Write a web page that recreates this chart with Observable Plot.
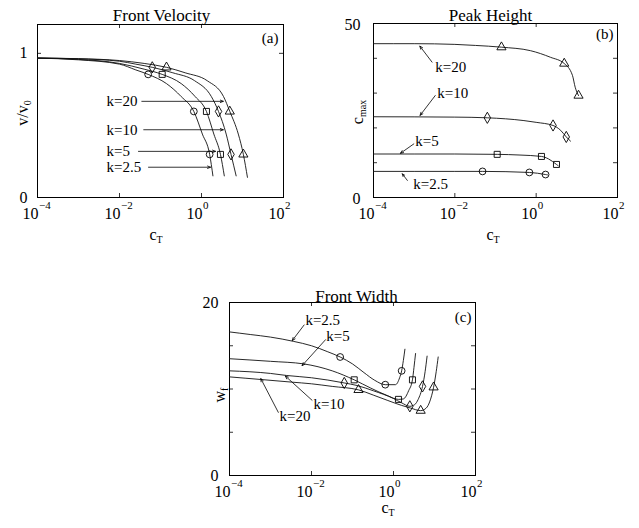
<!DOCTYPE html>
<html><head><meta charset="utf-8">
<script src="https://cdn.jsdelivr.net/npm/d3@7"></script>
<script src="https://cdn.jsdelivr.net/npm/@observablehq/plot@0.6"></script>
<style>
body{margin:0;background:#fff;}
#wrap{position:relative;width:639px;height:528px;background:#fff;overflow:hidden;}
#wrap svg{position:absolute;overflow:visible;}
</style></head><body><div id="wrap"></div>
<script>
// ---------- shared axis data ----------
const xTickValues = [1e-4, 1e-2, 1, 1e2];
const xTickExponents = ["\u22124", "\u22122", "0", "2"];
const xInnerTicks = [1e-2, 1];
const kLabels = ["2.5", "5", "10", "20"];
const kSymbols = ["circle", "square", "diamond", "triangle"];

// ---------- (a) Front Velocity : v/v0 vs cT ----------
const velCT25 = [0.0001, 0.001, 0.01, 0.025, 0.05, 0.14, 0.32, 0.65, 1.05, 1.58, 1.9];
const velV25  = [0.967, 0.955, 0.925, 0.885, 0.854, 0.79, 0.70, 0.597, 0.44, 0.299, 0.15];
const velCT5  = [0.0001, 0.001, 0.01, 0.04, 0.11, 0.32, 0.7, 1.32, 2.0, 2.9, 3.6];
const velV5   = [0.967, 0.958, 0.93, 0.89, 0.854, 0.79, 0.70, 0.597, 0.44, 0.299, 0.15];
const velCT10 = [0.0001, 0.001, 0.01, 0.025, 0.063, 0.2, 0.68, 1.74, 2.6, 4.0, 5.25, 7.0];
const velV10  = [0.967, 0.962, 0.945, 0.925, 0.903, 0.865, 0.81, 0.70, 0.597, 0.44, 0.299, 0.15];
const velCT20 = [0.0001, 0.001, 0.01, 0.04, 0.14, 0.4, 1.38, 3.45, 4.9, 7.9, 10.5, 13.2];
const velV20  = [0.967, 0.963, 0.95, 0.93, 0.903, 0.865, 0.81, 0.70, 0.597, 0.44, 0.299, 0.14];
const velMarkCT25 = [0.05, 0.65, 1.58],  velMarkV25 = [0.854, 0.597, 0.299];
const velMarkCT5  = [0.11, 1.32, 2.9],   velMarkV5  = [0.854, 0.597, 0.299];
const velMarkCT10 = [0.063, 2.6, 5.25],  velMarkV10 = [0.903, 0.597, 0.299];
const velMarkCT20 = [0.14, 4.9, 10.5],   velMarkV20 = [0.903, 0.597, 0.299];
const velYTicks = [1];
const velYLabels = [0, 1];
const velAnnotLabels = ["k=20", "k=10", "k=5", "k=2.5"];
const velAnnotCT = [0.0048, 0.0048, 0.0048, 0.0048];
const velAnnotV = [0.667, 0.47, 0.32, 0.21];
const velArrowFromCT = [0.035, 0.039, 0.029, 0.051];
const velArrowToCT = [3.4, 3.4, 2.2, 1.66];

// ---------- (b) Peak Height : c_max vs cT ----------
const peakCT25 = [0.0001, 0.01, 0.048, 0.68, 1.7, 1.9];
const peakC25  = [7.5, 7.5, 7.5, 7.2, 6.6, 6.5];
const peakCT5  = [0.0001, 0.01, 0.11, 0.4, 1.35, 2.0, 3.16, 3.5];
const peakC5   = [12.5, 12.5, 12.4, 12.2, 11.8, 11.1, 9.5, 9.1];
const peakCT10 = [0.0001, 0.01, 0.063, 0.5, 1, 2.6, 4.0, 5.5, 7.0];
const peakC10  = [23.2, 23.1, 22.9, 22.1, 21.6, 20.7, 19.3, 17.4, 16.2];
const peakCT20 = [0.0001, 0.001, 0.01, 0.032, 0.14, 0.72, 2.24, 4.9, 7.8, 9.1, 11];
const peakC20  = [44.2, 44.2, 44.0, 43.7, 43.2, 42.2, 40.3, 38.5, 35.1, 31.7, 29.3];
const peakMarkCT25 = [0.048, 0.68, 1.7],  peakMarkC25 = [7.5, 7.2, 6.6];
const peakMarkCT5  = [0.11, 1.35, 3.16],  peakMarkC5  = [12.4, 11.8, 9.5];
const peakMarkCT10 = [0.063, 2.6, 5.5],   peakMarkC10 = [22.9, 20.7, 17.4];
const peakMarkCT20 = [0.14, 4.9, 11],     peakMarkC20 = [43.2, 38.5, 29.3];
const peakYTicks = [10, 20, 30, 40];
const peakYLabels = [0, 50];
const peakAnnotLabels = ["k=20", "k=10", "k=5", "k=2.5"];
const peakAnnotCT = [0.0033, 0.0037, 0.00107, 0.00095];
const peakAnnotC = [37.4, 30.0, 16.2, 3.9];
const peakArrowFromCT = [0.00275, 0.0033, 0.00098, 0.00068];
const peakArrowFromC = [38.9, 29.3, 15.4, 4.9];
const peakArrowToCT = [0.00138, 0.0014, 0.00046, 0.00051];
const peakArrowToC = [43.5, 23.6, 12.7, 6.8];

// ---------- (c) Front Width : w_f vs cT ----------
const widthCT25 = [0.0001, 0.00032, 0.001, 0.0037, 0.01, 0.025, 0.05, 0.1, 0.19, 0.35, 0.63, 1.12, 1.41, 1.58, 1.74, 1.9];
const widthW25  = [16.6, 16.3, 16.0, 15.5, 15.0, 14.3, 13.7, 12.9, 11.9, 11.0, 10.5, 10.5, 11.3, 12.1, 13.3, 14.6];
const widthCT5  = [0.0001, 0.001, 0.0065, 0.032, 0.11, 0.28, 0.7, 1.32, 1.74, 2.34, 2.9, 3.16, 3.45];
const widthW5   = [13.5, 13.2, 12.9, 12.1, 11.06, 10.1, 9.25, 8.8, 8.85, 9.8, 11.06, 12.5, 14.1];
const widthCT10 = [0.0001, 0.001, 0.0025, 0.01, 0.063, 0.13, 0.32, 1, 1.58, 2.5, 3.3, 4.0, 5.1, 5.9, 6.6];
const widthW10  = [12.1, 11.8, 11.56, 11.3, 10.7, 10.4, 9.8, 8.9, 8.4, 8.0, 8.2, 8.8, 10.3, 12.0, 13.8];
const widthCT20 = [0.0001, 0.00058, 0.0032, 0.01, 0.032, 0.14, 0.32, 0.7, 1.58, 2.6, 4.6, 6.3, 7.6, 9.5, 11, 12.3];
const widthW20  = [11.4, 11.1, 10.8, 10.6, 10.3, 9.9, 9.3, 8.7, 8.1, 7.8, 7.5, 7.8, 8.5, 10.2, 12.0, 13.7];
const widthMarkCT25 = [0.05, 0.63, 1.58],  widthMarkW25 = [13.7, 10.5, 12.1];
const widthMarkCT5  = [0.11, 1.32, 2.9],   widthMarkW5  = [11.06, 8.8, 11.06];
const widthMarkCT10 = [0.063, 2.5, 5.1],   widthMarkW10 = [10.7, 8.0, 10.3];
const widthMarkCT20 = [0.14, 4.6, 9.5],    widthMarkW20 = [9.9, 7.5, 10.2];
const widthYTicks = [5, 10, 15];
const widthYLabels = [0, 20];
const widthAnnotLabels = ["k=2.5", "k=5", "k=10", "k=20"];
const widthAnnotCT = [0.0071, 0.023, 0.0112, 0.00166];
const widthAnnotW = [18.0, 16.1, 8.3, 6.9];
const widthArrowFromCT = [0.0066, 0.022, 0.0103, 0.00155];
const widthArrowFromW = [17.4, 15.7, 8.7, 7.3];
const widthArrowToCT = [0.0034, 0.0059, 0.0023, 0.00058];
const widthArrowToW = [15.6, 12.7, 11.5, 11.2];

// ---------- helpers ----------
const FONT = '"Liberation Serif", "DejaVu Serif", "Times New Roman", serif';
const rows = (cT, vals) => cT.map((c, i) => ({cT: c, val: vals[i]}));

function panel(o) {
  const innerW = o.width - o.ml - o.mr, innerH = o.height - o.mt - o.mb;
  const marks = [
    Plot.ruleX(xInnerTicks, {x: d => d, insetTop: innerH - 4, stroke: "black", strokeWidth: 0.8}),
    Plot.ruleX(xInnerTicks, {x: d => d, insetBottom: innerH - 4, stroke: "black", strokeWidth: 0.8}),
    Plot.ruleY(o.yTicks, {y: d => d, insetRight: innerW - 4, stroke: "black", strokeWidth: 0.8}),
    Plot.ruleY(o.yTicks, {y: d => d, insetLeft: innerW - 4, stroke: "black", strokeWidth: 0.8}),
    Plot.frame({stroke: "black", strokeWidth: 1}),
    Plot.text(xTickValues, {x: d => d, frameAnchor: "bottom", dy: 21, dx: 1, text: () => "10", textAnchor: "end", lineAnchor: "bottom", fontSize: 16, fill: "black"}),
    Plot.text(xTickValues, {x: d => d, frameAnchor: "bottom", dy: 11, dx: 1.5, text: (d, i) => xTickExponents[i], textAnchor: "start", lineAnchor: "bottom", fontSize: 11, fill: "black"}),
    Plot.text(o.yLabels, {y: d => d, frameAnchor: "left", dx: o.yLabelDx, dy: o.yLabelDy, text: d => String(d), textAnchor: "end", fontSize: 16, fill: "black"}),
    Plot.text([o.title], {frameAnchor: "top", dx: o.titleDx, dy: o.titleDy, text: d => d, lineAnchor: "bottom", fontSize: 17, fill: "black"}),
    Plot.text([o.tag], {frameAnchor: "top-right", dx: o.tagDx, dy: o.tagDy, text: d => d, textAnchor: "end", lineAnchor: "middle", fontSize: 15, fill: "black"})
  ];
  o.curves.forEach(c => marks.push(Plot.line(c, {x: "cT", y: "val", curve: "monotone-x", stroke: "#111", strokeWidth: 0.9})));
  o.markers.forEach((m, i) => marks.push(Plot.dot(m, {x: "cT", y: "val", symbol: kSymbols[i], r: 3.4, stroke: "black", strokeWidth: 0.9, fill: "none"})));
  marks.push(Plot.arrow(o.arrows, {x1: "x1", y1: "y1", x2: "x2", y2: "y2", stroke: "black", strokeWidth: 0.8, headLength: 6, headAngle: 45}));
  marks.push(Plot.text(o.annots, {x: "x", y: "y", text: "label", textAnchor: "start", fontSize: 15, fill: "black"}));
  return Plot.plot({
    width: o.width, height: o.height,
    marginLeft: o.ml, marginRight: o.mr, marginTop: o.mt, marginBottom: o.mb,
    x: {type: "log", domain: [1e-4, 1e2], axis: null},
    y: {domain: [0, o.ymax], axis: null},
    style: {fontFamily: FONT, background: "transparent", color: "black", overflow: "visible"},
    marks
  });
}

function axisLabel(svg, x, y, main, sub, rotate) {
  const t = d3.select(svg).append("text")
    .attr("transform", `translate(${x},${y})` + (rotate ? " rotate(-90)" : ""))
    .attr("text-anchor", "middle").attr("font-family", FONT).attr("font-size", 16).attr("fill", "black");
  t.append("tspan").text(main);
  t.append("tspan").attr("font-size", 10).attr("dy", 3).text(sub);
}

const wrap = document.getElementById("wrap");
function place(svg, left, top) {
  svg.style.left = left + "px"; svg.style.top = top + "px";
  wrap.appendChild(svg);
}

// ---------- panel (a) ----------
const svgA = panel({
  width: 300, height: 250, ml: 37, mr: 17, mt: 24, mb: 53, ymax: 1.2,
  yTicks: velYTicks, yLabels: velYLabels, yLabelDx: -10, yLabelDy: 0,
  title: "Front Velocity", titleDx: 1, titleDy: -4, tag: "(a)", tagDx: -5, tagDy: 14,
  curves: [rows(velCT25, velV25), rows(velCT5, velV5), rows(velCT10, velV10), rows(velCT20, velV20)],
  markers: [rows(velMarkCT25, velMarkV25), rows(velMarkCT5, velMarkV5), rows(velMarkCT10, velMarkV10), rows(velMarkCT20, velMarkV20)],
  arrows: velAnnotLabels.map((l, i) => ({x1: velArrowFromCT[i], y1: velAnnotV[i], x2: velArrowToCT[i], y2: velAnnotV[i]})),
  annots: velAnnotLabels.map((l, i) => ({label: l, x: velAnnotCT[i], y: velAnnotV[i]}))
});
place(svgA, 0, 0);
axisLabel(svgA, 156, 240, "c", "T", false);
axisLabel(svgA, 28, 113, "v/v", "0", true);

// ---------- panel (b) ----------
const svgB = panel({
  width: 309, height: 250, ml: 43, mr: 22, mt: 23, mb: 53, ymax: 50,
  yTicks: peakYTicks, yLabels: peakYLabels, yLabelDx: -13, yLabelDy: 1,
  title: "Peak Height", titleDx: -5, titleDy: -3, tag: "(b)", tagDx: -4, tagDy: 11,
  curves: [rows(peakCT25, peakC25), rows(peakCT5, peakC5), rows(peakCT10, peakC10), rows(peakCT20, peakC20)],
  markers: [rows(peakMarkCT25, peakMarkC25), rows(peakMarkCT5, peakMarkC5), rows(peakMarkCT10, peakMarkC10), rows(peakMarkCT20, peakMarkC20)],
  arrows: peakAnnotLabels.map((l, i) => ({x1: peakArrowFromCT[i], y1: peakArrowFromC[i], x2: peakArrowToCT[i], y2: peakArrowToC[i]})),
  annots: peakAnnotLabels.map((l, i) => ({label: l, x: peakAnnotCT[i], y: peakAnnotC[i]}))
});
place(svgB, 330, 0);
axisLabel(svgB, 163, 240, "c", "T", false);
axisLabel(svgB, 33, 112, "c", "max", true);

// ---------- panel (c) ----------
const svgC = panel({
  width: 330, height: 258, ml: 59, mr: 25, mt: 32, mb: 53, ymax: 20,
  yTicks: widthYTicks, yLabels: widthYLabels, yLabelDx: -11, yLabelDy: 0,
  title: "Front Width", titleDx: 4, titleDy: -1, tag: "(c)", tagDx: -4, tagDy: 15,
  curves: [rows(widthCT25, widthW25), rows(widthCT5, widthW5), rows(widthCT10, widthW10), rows(widthCT20, widthW20)],
  markers: [rows(widthMarkCT25, widthMarkW25), rows(widthMarkCT5, widthMarkW5), rows(widthMarkCT10, widthMarkW10), rows(widthMarkCT20, widthMarkW20)],
  arrows: widthAnnotLabels.map((l, i) => ({x1: widthArrowFromCT[i], y1: widthArrowFromW[i], x2: widthArrowToCT[i], y2: widthArrowToW[i]})),
  annots: widthAnnotLabels.map((l, i) => ({label: l, x: widthAnnotCT[i], y: widthAnnotW[i]}))
});
place(svgC, 170, 270);
axisLabel(svgC, 218, 243, "c", "T", false);
axisLabel(svgC, 55, 125, "w", "f", true);
</script></body></html>
